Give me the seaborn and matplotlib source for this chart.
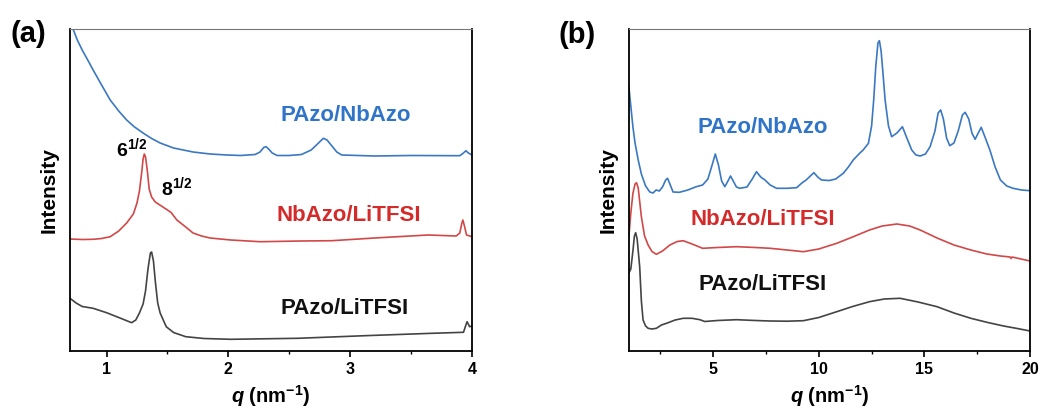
import numpy as np
import pandas as pd
import matplotlib
matplotlib.use("Agg")
import matplotlib.pyplot as plt
from matplotlib.ticker import MultipleLocator, NullLocator
import seaborn as sns

# ---------------- data (arbitrary intensity, offset stacked) ----------------
# Panel (a): low-q region
qa_blue = [0.70, 0.725, 0.76, 0.80, 0.85, 0.89, 0.95, 1.03, 1.10, 1.165, 1.23, 1.30,
           1.37, 1.44, 1.55, 1.71, 1.85, 1.99, 2.10, 2.22, 2.26, 2.29, 2.31, 2.33,
           2.36, 2.40, 2.50, 2.60, 2.68, 2.74, 2.78, 2.81, 2.85, 2.89, 2.93, 3.20,
           3.50, 3.90, 3.93, 3.95, 3.97, 4.00]
ia_blue = [335, 322, 311, 301, 290, 281, 268, 251, 240, 231, 224, 218,
           212.5, 208, 203, 199, 197, 196, 195.5, 196.5, 199, 203.5, 204.3, 202,
           198, 195.5, 195.5, 196.5, 201, 208, 212.7, 211, 205, 199, 196, 195,
           195.5, 195.3, 198, 200.3, 198, 196]

qa_red = [0.70, 0.80, 0.89, 0.96, 1.03, 1.10, 1.165, 1.22, 1.25, 1.27, 1.29, 1.30,
          1.31, 1.32, 1.335, 1.35, 1.37, 1.40, 1.45, 1.50, 1.53, 1.577, 1.65, 1.71,
          1.78, 1.85, 2.02, 2.26, 2.60, 2.85, 3.20, 3.64, 3.87, 3.90, 3.915, 3.925,
          3.94, 3.955, 4.00]
ia_red = [112, 111.5, 111.7, 112.5, 114.3, 120, 128, 137, 148, 160, 180, 192,
          197, 194, 180, 162, 154, 149, 145, 141, 138.5, 131, 124, 118,
          115, 113, 111, 109.3, 110, 110.3, 113, 116, 115, 118, 127, 131,
          124, 116, 114.3]

qa_black = [0.70, 0.75, 0.80, 0.89, 1.00, 1.10, 1.206, 1.24, 1.27, 1.30, 1.32, 1.34,
            1.36, 1.37, 1.385, 1.40, 1.42, 1.44, 1.49, 1.55, 1.65, 1.80, 2.02, 2.57,
            3.12, 3.67, 3.93, 3.95, 3.96, 3.98, 4.00]
ia_black = [52.7, 48, 44.5, 42.7, 38.3, 33.5, 28.3, 31, 38, 47, 60, 82,
            98, 99, 90, 70, 48, 38, 24.3, 18.5, 14.3, 12.5, 11.7, 12.7,
            15.3, 17.7, 18.7, 26, 29.3, 24.3, 25]

# Panel (b): wide-q region
qb_blue = [1.0, 1.1, 1.2, 1.3, 1.45, 1.6, 1.8, 2.0, 2.15, 2.3, 2.45, 2.6, 2.75, 2.84,
           2.95, 3.1, 3.4, 3.8, 4.2, 4.5, 4.75, 4.95, 5.1, 5.25, 5.4, 5.55, 5.7, 5.82,
           5.95, 6.1, 6.26, 6.6, 6.85, 7.05, 7.25, 7.45, 7.7, 8.0, 8.5, 8.95, 9.2, 9.4,
           9.6, 9.77, 9.95, 10.13, 10.5, 10.8, 11.16, 11.4, 11.63, 11.9, 12.1, 12.35,
           12.5, 12.6, 12.7, 12.8, 12.87, 12.95, 13.05, 13.14, 13.3, 13.45, 13.7,
           13.96, 14.15, 14.4, 14.6, 14.8, 15.05, 15.27, 15.5, 15.65, 15.77, 15.9,
           16.05, 16.2, 16.4, 16.6, 16.8, 16.93, 17.1, 17.25, 17.4, 17.55, 17.69,
           17.85, 18.1, 18.35, 18.6, 18.9, 19.2, 19.6, 20.0]
ib_blue = [266, 245, 224, 208, 191, 177, 165, 159, 158, 161, 160, 164, 171, 172.7,
           167, 159, 158.7, 161, 164.3, 166, 172, 186, 197, 186, 170, 164.3, 170, 175,
           170, 164, 162.7, 164, 172, 179.3, 174, 171, 166, 162.7, 162.7, 163.3, 168, 171,
           175, 178.3, 174, 171, 170.5, 172, 177.7, 184, 191, 197, 201, 207.7,
           225, 251, 285, 308, 310.3, 300, 275, 251, 225, 214.3, 218,
           224.3, 214, 201, 196, 195, 197, 204.3, 220, 238, 241, 232,
           213, 205.3, 208, 220, 236, 238.7, 232, 218, 211.7, 218, 223.7,
           215, 201, 184, 171, 165, 162.7, 161, 160.3]

qb_red = [1.0, 1.1, 1.2, 1.3, 1.37, 1.45, 1.6, 1.75, 1.92, 2.1, 2.31, 2.6, 2.95, 3.3,
          3.58, 4.0, 4.5, 5.2, 6.1, 7.0, 7.7, 8.5, 9.27, 10.0, 10.85, 11.6, 12.4, 13.0,
          13.7, 14.3, 14.8, 15.6, 16.4, 17.2, 17.95, 18.6, 19.06, 19.1, 19.15, 20.0]
ib_red = [112.7, 138, 157.7, 167, 168.3, 163, 134.3, 115, 106, 99.5, 96.7, 100, 106, 109.5,
          110.3, 107, 102.7, 103.5, 104.3, 103.5, 102.7, 101, 99.3, 102, 107.7, 114, 121, 125,
          127, 125, 121, 113, 106, 101, 97, 95, 94, 92.5, 94, 90]

qb_black = [1.0, 1.1, 1.2, 1.27, 1.33, 1.4, 1.52, 1.6, 1.68, 1.8, 1.92, 2.1, 2.31, 2.55,
            2.79, 3.2, 3.58, 4.0, 4.37, 4.6, 5.2, 6.1, 7.0, 7.7, 8.5, 9.27, 10.0, 10.85,
            11.6, 12.4, 13.1, 13.85, 14.7, 15.6, 16.4, 17.2, 18.0, 18.75, 19.4, 20.0]
ib_black = [77.7, 82, 100, 115, 118.3, 112, 84.3, 50, 31, 25, 22.7, 22, 22.7, 26,
            27.7, 31, 32.7, 32.7, 31.3, 29.5, 30.5, 31.3, 30.5, 30, 29.8, 30.3, 33.5, 39.3,
            44.5, 49.3, 52, 52.7, 49, 44.3, 38, 32.7, 28.5, 25, 22.5, 20]

series_names = ["PAzo/NbAzo", "NbAzo/LiTFSI", "PAzo/LiTFSI"]
line_colors = ["#3b78c2", "#d24848", "#444444"]
text_colors = ["#2f74c8", "#d42a2a", "#111111"]

# ---------------- style ----------------
sns.set_theme(style="white")
plt.rcParams["font.family"] = ["Liberation Sans", "DejaVu Sans"]
plt.rcParams["font.weight"] = "bold"
plt.rcParams["text.color"] = "black"
plt.rcParams["axes.labelcolor"] = "black"
plt.rcParams["xtick.color"] = "black"
plt.rcParams["ytick.color"] = "black"
plt.rcParams["mathtext.fontset"] = "custom"
plt.rcParams["mathtext.rm"] = "Liberation Sans:bold"
plt.rcParams["mathtext.it"] = "Liberation Sans:italic:bold"
plt.rcParams["mathtext.bf"] = "Liberation Sans:bold"

fig = plt.figure(figsize=(10.41, 4.09), dpi=100)
ax_a = fig.add_axes([70 / 1041, 58 / 409, 402 / 1041, 322 / 409])
ax_b = fig.add_axes([628.7 / 1041, 58 / 409, 401.3 / 1041, 322 / 409])


def draw(ax, qs, ys):
    for q, y, c in zip(qs, ys, line_colors):
        df = pd.DataFrame({"q": q, "I": y})
        sns.lineplot(data=df, x="q", y="I", ax=ax, color=c, linewidth=1.2,
                     estimator=None, sort=False)


draw(ax_a, [qa_blue, qa_red, qa_black], [ia_blue, ia_red, ia_black])
draw(ax_b, [qb_blue, qb_red, qb_black], [ib_blue, ib_red, ib_black])

ax_a.set_xlim(0.7, 4.0)
ax_b.set_xlim(1.0, 20.0)
ax_a.xaxis.set_major_locator(MultipleLocator(1))
ax_a.xaxis.set_minor_locator(MultipleLocator(0.5))
ax_b.xaxis.set_major_locator(MultipleLocator(5))
ax_b.xaxis.set_minor_locator(MultipleLocator(2.5))

for ax in (ax_a, ax_b):
    ax.set_ylim(0, 322)
    ax.yaxis.set_major_locator(NullLocator())
    ax.set_ylabel("Intensity", fontsize=15, fontweight="bold", labelpad=8, color="black")
    ax.set_xlabel(r"$q$ (nm$^{-1}$)", fontsize=14.5, fontweight="bold", labelpad=4,
                  color="black")
    for s in ax.spines.values():
        s.set_color("black")
        s.set_linewidth(1.3)
    ax.spines["top"].set_color("#777777")
    ax.spines["top"].set_linewidth(0.8)
    ax.tick_params(axis="x", which="major", direction="out", length=4, width=1.2,
                   labelsize=11.5, bottom=True, pad=4, colors="black")
    ax.tick_params(axis="x", which="minor", direction="out", length=2.5, width=1.0,
                   bottom=True, colors="black")
    for lbl in ax.get_xticklabels():
        lbl.set_fontweight("bold")

# series labels
pos_a = [(2.96, 236), (2.99, 136), (2.95, 43)]
pos_b = [(7.36, 224), (7.36, 132), (7.36, 66)]
for (x, y), n, c in zip(pos_a, series_names, text_colors):
    ax_a.text(x, y, n, color=c, fontsize=16, fontweight="bold", ha="center", va="center")
for (x, y), n, c in zip(pos_b, series_names, text_colors):
    ax_b.text(x, y, n, color=c, fontsize=16, fontweight="bold", ha="center", va="center")

ax_a.text(1.21, 203, r"6$^{1/2}$", fontsize=14, color="black", ha="center", va="center")
ax_a.text(1.58, 164, r"8$^{1/2}$", fontsize=14, color="black", ha="center", va="center")

fig.text(10 / 1041, 1 - 34 / 409, "(a)", fontsize=21, fontweight="bold", va="center",
         ha="left", color="black")
fig.text(558 / 1041, 1 - 35 / 409, "(b)", fontsize=21, fontweight="bold", va="center",
         ha="left", color="black")

fig.savefig("out.png", dpi=100)
